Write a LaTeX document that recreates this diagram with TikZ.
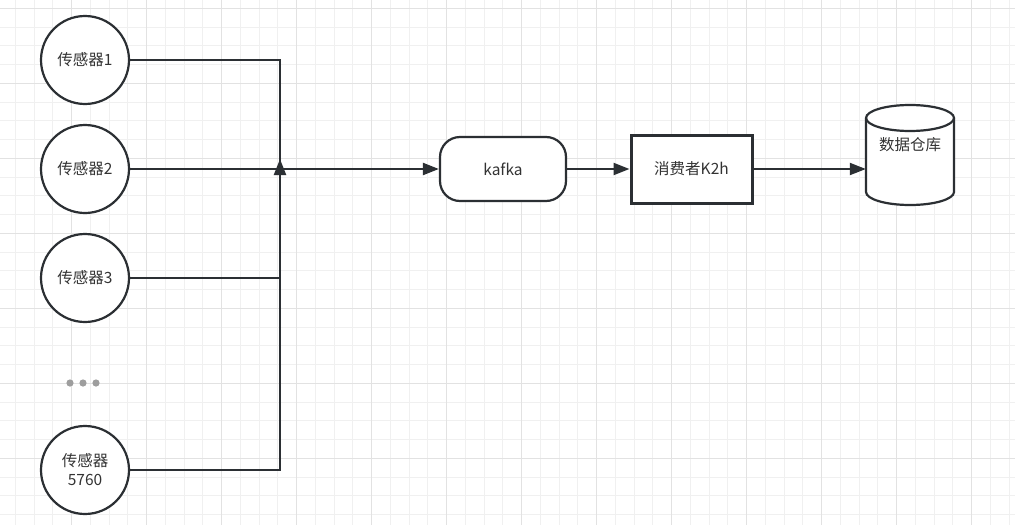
\documentclass[tikz,border=0pt]{standalone}
\usepackage{fontspec}
\newfontfamily\cjk{Noto Sans CJK SC}
\usetikzlibrary{arrows.meta}
\definecolor{ink}{HTML}{2B2F33}
\definecolor{txt}{HTML}{333333}
\definecolor{gminor}{HTML}{F0F0F0}
\definecolor{gmajor}{HTML}{E2E2E2}
\definecolor{dotc}{HTML}{9E9E9E}
\tikzset{
  sensor/.style={circle, draw=ink, line width=2.2pt, fill=white, minimum size=88pt, inner sep=0pt, font=\cjk\fontsize{15.5}{19}\selectfont, text=txt, align=center},
  conn/.style={draw=ink, line width=2.2pt},
  arr/.style={conn, -{Triangle[length=16pt,width=12pt]}},
  box/.style={draw=ink, fill=white, font=\cjk\fontsize{15.5}{19}\selectfont, text=txt, inner sep=0pt}
}
\begin{document}
\begin{tikzpicture}[x=1pt,y=-1pt]
\useasboundingbox (0,0) rectangle (1015,525);
\fill[white] (0,0) rectangle (1015,525);
% grid
\foreach \i in {0,...,54} {\draw[gminor, line width=1pt] ({15.45+18.75*\i},0) -- ({15.45+18.75*\i},525);}
\foreach \i in {0,...,28} {\draw[gminor, line width=1pt] (0,{8.3+18.75*\i}) -- (1015,{8.3+18.75*\i});}
\foreach \i in {0,...,13} {\draw[gmajor, line width=1pt] ({71.7+75*\i},0) -- ({71.7+75*\i},525);}
\foreach \i in {0,...,7} {\draw[gmajor, line width=1pt] (0,{8.3+75*\i}) -- (1015,{8.3+75*\i});}

% nodes
\node[sensor] (s1) at (85,60) {传感器1};
\node[sensor] (s2) at (85,169) {传感器2};
\node[sensor] (s3) at (85,278) {传感器3};
\node[sensor] (s4) at (85,470) {传感器\\5760};
\node[box, rounded corners=20pt, line width=2.2pt, minimum width=126pt, minimum height=64pt] (kafka) at (503,169) {kafka};
\node[box, line width=3pt, minimum width=121pt, minimum height=68pt] (k2h) at (691.5,169) {消费者K2h};
\node[minimum width=88pt, minimum height=100pt, inner sep=0pt] (db) at (910,155) {};
\fill[dotc] (70,383) circle (3.6pt) (83,383) circle (3.6pt) (96,383) circle (3.6pt);

% cylinder
\draw[ink, line width=2.2pt, fill=white]
  (866,118) -- (866,192)
  arc[start angle=180, end angle=360, x radius=44pt, y radius=13pt]
  -- (954,118)
  arc[start angle=0, end angle=180, x radius=44pt, y radius=13pt] -- cycle;
\draw[ink, line width=2.2pt]
  (866,118) arc[start angle=180, end angle=360, x radius=44pt, y radius=13pt];
\node[font=\cjk\fontsize{15.5}{19}\selectfont, text=txt] (dbl) at (910,145) {数据仓库};

% connectors
\coordinate (j) at (280,169);
\coordinate (jt) at (280,159);
\draw[conn] (s1.east) -| (j);
\draw[conn] (s3.east) -| (j);
\draw[arr] (s4.east) -| (jt);
\draw[arr] (s2.east) -- (kafka.west);
\draw[arr] (kafka.east) -- (k2h.west);
\draw[arr] (k2h.east) -- (db.west |- k2h.east);
\end{tikzpicture}
\end{document}
